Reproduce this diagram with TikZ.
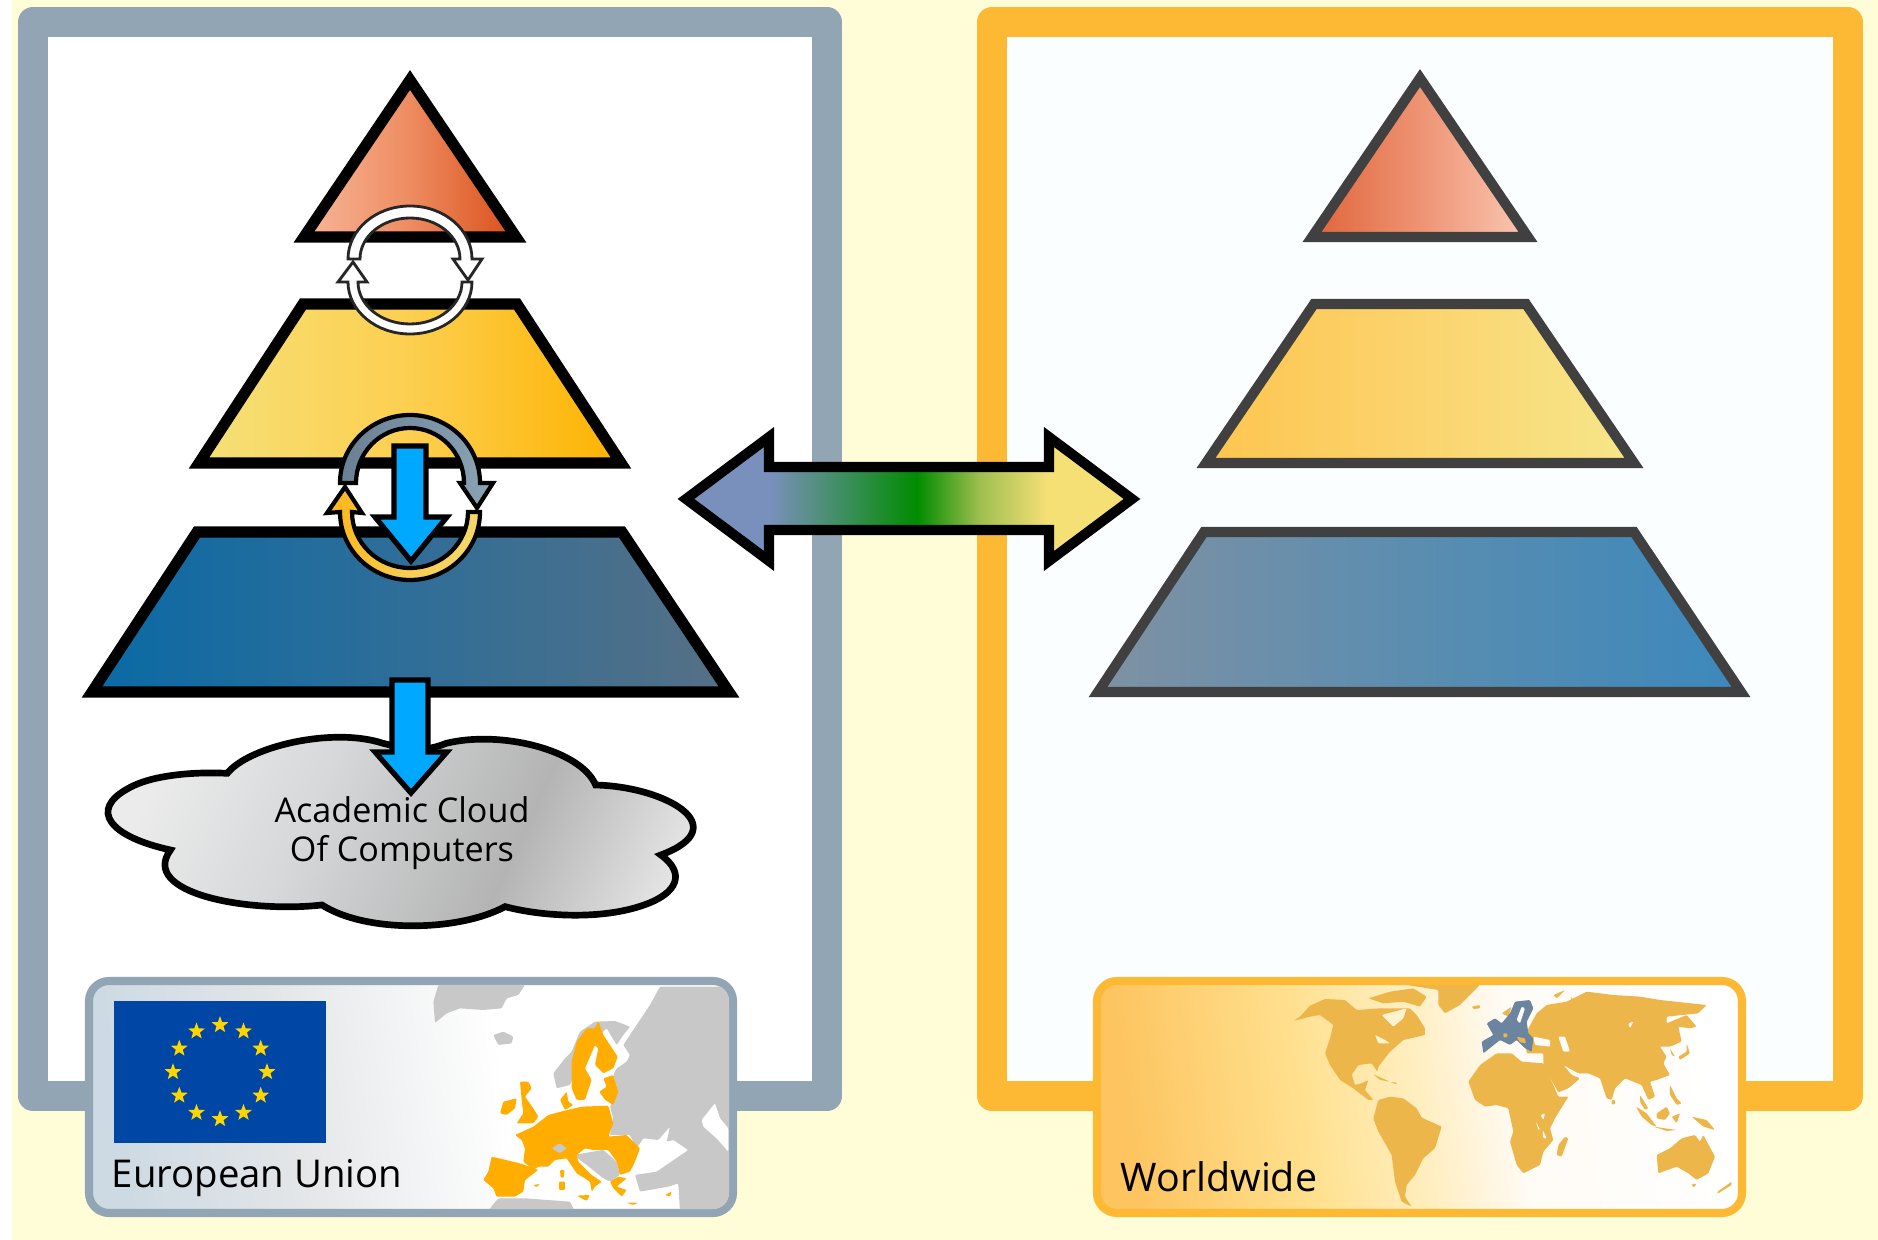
\documentclass[tikz,border=0pt]{standalone}
\usepackage{fontspec}
\setmainfont{Open Sans}
\usetikzlibrary{shapes.geometric}
\definecolor{bgY}{HTML}{FFFDD8}
\definecolor{frameB}{HTML}{92A5B5}
\definecolor{frameO}{HTML}{FDB933}
\definecolor{bluearrow}{HTML}{00A8FF}
\definecolor{euO}{HTML}{FFAD00}
\definecolor{mapO}{HTML}{ECB64A}
\definecolor{mapG}{HTML}{C8C8C8}
\definecolor{euB}{HTML}{6B85A0}
\definecolor{flagB}{HTML}{0047A5}
\definecolor{starY}{HTML}{FFD500}
\definecolor{holeW}{HTML}{FFF3CF}
\definecolor{holeE}{HTML}{FFFBF7}
\definecolor{rightIn}{HTML}{FBFEFF}
\newcommand{\hexdef}[1]{\definecolor{c#1}{HTML}{#1}}
\hexdef{F8B79A}\hexdef{EE8B60}\hexdef{D9501A}\hexdef{E0653B}\hexdef{EE9373}\hexdef{F9C8B4}
\hexdef{F5E078}\hexdef{FDCF4F}\hexdef{FDB300}\hexdef{FDC54F}\hexdef{FBD46E}\hexdef{F6E68A}
\hexdef{0A6AA5}\hexdef{2F6E98}\hexdef{567085}\hexdef{7F91A3}\hexdef{5A8DB0}\hexdef{3C88BC}
\hexdef{7A90BC}\hexdef{008C00}\hexdef{A0BF50}\hexdef{F5E075}
\hexdef{CDDAE3}\hexdef{E4E6E8}\hexdef{FFFFFF}\hexdef{FDC45F}\hexdef{FFE08E}\hexdef{FFEEC0}\hexdef{FFFBF5}
\hexdef{EBEBEB}\hexdef{D6D8D9}\hexdef{B4B4B4}\hexdef{E4E4E4}
\hexdef{8BA5B5}\hexdef{7F98AB}\hexdef{6B7F94}\hexdef{F5D96B}\hexdef{F8CC50}\hexdef{FDB515}
\pgfdeclarehorizontalshading{triL}{100bp}{color(0bp)=(cF8B79A);color(25bp)=(cF8B79A);color(50bp)=(cEE8B60);color(75bp)=(cD9501A);color(100bp)=(cD9501A)}
\pgfdeclarehorizontalshading{triR}{100bp}{color(0bp)=(cE0653B);color(25bp)=(cE0653B);color(50bp)=(cEE9373);color(75bp)=(cF9C8B4);color(100bp)=(cF9C8B4)}
\pgfdeclarehorizontalshading{midL}{100bp}{color(0bp)=(cF5E078);color(25bp)=(cF5E078);color(50bp)=(cFDCF4F);color(75bp)=(cFDB300);color(100bp)=(cFDB300)}
\pgfdeclarehorizontalshading{midR}{100bp}{color(0bp)=(cFDC54F);color(25bp)=(cFDC54F);color(50bp)=(cFBD46E);color(75bp)=(cF6E68A);color(100bp)=(cF6E68A)}
\pgfdeclarehorizontalshading{lowL}{100bp}{color(0bp)=(c0A6AA5);color(25bp)=(c0A6AA5);color(50bp)=(c2F6E98);color(75bp)=(c567085);color(100bp)=(c567085)}
\pgfdeclarehorizontalshading{lowR}{100bp}{color(0bp)=(c7F91A3);color(25bp)=(c7F91A3);color(50bp)=(c5A8DB0);color(75bp)=(c3C88BC);color(100bp)=(c3C88BC)}
\pgfdeclarehorizontalshading{bigarrow}{100bp}{color(0bp)=(c7A90BC);color(34.4bp)=(c7A90BC);color(50.9bp)=(c008C00);color(58bp)=(cA0BF50);color(65.5bp)=(cF5E075);color(100bp)=(cF5E075)}
\pgfdeclarehorizontalshading{euback}{100bp}{color(0bp)=(cCDDAE3);color(25bp)=(cCDDAE3);color(40bp)=(cE4E6E8);color(58bp)=(cFFFFFF);color(100bp)=(cFFFFFF)}
\pgfdeclarehorizontalshading{wwback}{100bp}{color(0bp)=(cFDC45F);color(25bp)=(cFDC45F);color(40bp)=(cFFE08E);color(50bp)=(cFFEEC0);color(58bp)=(cFFFBF5);color(75bp)=(cFFFFFF);color(100bp)=(cFFFFFF)}
\pgfdeclarehorizontalshading{cloudg}{100bp}{color(0bp)=(cEBEBEB);color(25bp)=(cEBEBEB);color(40bp)=(cD6D8D9);color(60bp)=(cB4B4B4);color(75bp)=(cE4E4E4);color(100bp)=(cE4E4E4)}
\pgfdeclarehorizontalshading{ringB}{100bp}{color(0bp)=(c6B7F94);color(25bp)=(c6B7F94);color(60bp)=(c7F98AB);color(75bp)=(c8BA5B5);color(100bp)=(c8BA5B5)}
\pgfdeclarehorizontalshading{ringY}{100bp}{color(0bp)=(cFDB515);color(25bp)=(cFDB515);color(50bp)=(cF8CC50);color(75bp)=(cF5D96B);color(100bp)=(cF5D96B)}
\tikzset{
  tierL/.style={draw=black,line width=3.15pt,line join=miter,shading=#1},
  tierR/.style={draw=black!75,line width=2.85pt,line join=miter,shading=#1},
  ring/.style={draw=black,line width=1.2pt,line join=miter},
  ringW/.style={draw=black!85,line width=0.8pt,fill=white,line join=miter},
  downarrow/.style={draw=black,line width=1.5pt,fill=bluearrow,line join=miter},
  txt/.style={font=\fontsize{10.9pt}{13pt}\selectfont,text=black,inner sep=0pt},
  estar/.style={star,star points=5,star point ratio=2.4,fill=starY,minimum size=5pt,inner sep=0pt},
  land/.style={fill=#1,rounded corners=0.3pt},
}
\begin{document}
\begin{tikzpicture}[x=0.01cm,y=-0.01cm]
\useasboundingbox (0,0) rectangle (1878,1240);
\fill[white] (0,0) rectangle (1878,1240);
\fill[bgY] (12,0) rectangle (1878,1240);
% frames
\draw[line width=8.5pt,line join=round,draw=frameB,fill=white] (33,22) rectangle (827,1096);
\draw[line width=8.5pt,line join=round,draw=frameO,fill=rightIn] (992,22) rectangle (1848,1096);
% right tiers
\path[tierR=triR] (1420,78) -- (1312,237) -- (1528,237) -- cycle;
\path[tierR=midR] (1314,304) -- (1526,304) -- (1634,463) -- (1206,463) -- cycle;
\path[tierR=lowR] (1204,532) -- (1634,532) -- (1741,692) -- (1098,692) -- cycle;
% big double arrow
\path[draw=black,line width=2.85pt,line join=miter,shading=bigarrow]
  (686,499) -- (769,437) -- (769,467) -- (1049,467) -- (1049,437) -- (1132,499) -- (1049,561) -- (1049,530) -- (769,530) -- (769,561) -- cycle;
% left tiers
\path[tierL=triL] (410,80) -- (304,237) -- (516,237) -- cycle;
\path[tierL=midL] (303,304) -- (517,304) -- (621,463) -- (199,463) -- cycle;
\path[tierL=lowL] (197,532) -- (622,532) -- (729,692) -- (92,692) -- cycle;
% cloud
\begin{scope}[shift={(80,660)},xscale=0.4209,yscale=0.3333]
\path[draw=black,line width=1.9pt,shading=cloudg,shading angle=-25]
 (350,340) .. controls (400,260) and (600,200) .. (720,250)
 .. controls (800,275) and (830,270) .. (870,250)
 .. controls (1000,210) and (1190,270) .. (1225,375)
 .. controls (1390,380) and (1560,500) .. (1380,585)
 .. controls (1440,640) and (1420,700) .. (1340,735)
 .. controls (1240,780) and (1100,770) .. (1010,740)
 .. controls (900,815) and (680,820) .. (575,735)
 .. controls (400,760) and (140,700) .. (215,570)
 .. controls (70,530) and (20,450) .. (115,385)
 .. controls (170,345) and (270,335) .. (350,340) -- cycle;
\end{scope}
\node[txt,font=\fontsize{9.7pt}{11.2pt}\selectfont,align=center] (cloudlabel) at (402,833) {Academic Cloud\\Of Computers};
% lower blue arrow
\path[downarrow] (392,680) -- (428,680) -- (428,752) -- (447,752) -- (411,793) -- (375,752) -- (392,752) -- cycle;
% middle rings
\path[ring,shading=ringB] (340,483) arc (180:360:70 and 68) -- (493,483) -- (477,508) -- (460,483) -- (464,483) arc (360:180:54 and 55) -- cycle;
\path[ring,shading=ringY] (480,512) arc (0:180:70 and 68) -- (327,513) -- (345,487) -- (362,513) -- (352,512) arc (180:0:58 and 56) -- cycle;
% big blue arrow
\path[downarrow] (394,446) -- (426,446) -- (426,517) -- (447,517) -- (411,561) -- (375,517) -- (394,517) -- cycle;
% top white rings
\path[ringW] (348,259) arc (180:360:62 and 53) -- (482,259) -- (468,280) -- (453,259) -- (460,259) arc (360:180:50 and 41) -- cycle;
\path[ringW] (472,282) arc (0:180:62 and 52) -- (338,282) -- (353,262) -- (367,282) -- (358,282) arc (180:0:52 and 42) -- cycle;
% EU box
\path[draw=frameB,line width=2.3pt,rounded corners=5.7pt,shading=euback,shading angle=8] (89,981) rectangle (733,1213);
\begin{scope}
\clip[rounded corners=4.5pt] (93,985) rectangle (729,1209);
\begin{scope}[shift={(470,985)},scale=0.3333]
\path[land=mapG] (-95,0) -- (165,0) -- (145,30) -- (110,40) -- (95,70) -- (40,75) -- (-30,70) -- (-70,85) -- (-105,114) -- (-110,50) -- cycle;
\path[land=mapG] (70,150) -- (100,140) -- (130,155) -- (125,175) -- (85,180) -- cycle;
\path[land=mapG] (250,265) -- (285,220) -- (305,200) -- (330,140) -- (375,110) -- (435,108) -- (480,125) -- (460,150) -- (440,180) -- (410,130) -- (340,200) -- (300,300) -- (260,310) -- cycle;
\path[land=mapG] (570,5) -- (800,5) -- (800,680) -- (630,680) -- (625,595) -- (595,605) -- (510,620) -- (495,570) -- (560,560) -- (655,495) -- (610,465) -- (590,470) -- (600,425) -- (565,465) -- (520,460) -- (500,490) -- (480,450) -- (420,450) -- (430,400) -- (420,365) -- (445,320) -- (430,270) -- (440,250) -- (470,230) -- (480,210) -- (460,180) -- (500,120) -- (540,60) -- cycle;
\path[land=white] (695,405) -- (735,355) -- (750,400) -- (775,430) -- (775,500) -- (740,460) -- (700,425) -- cycle;
\path[land=mapG] (310,510) -- (340,505) -- (400,495) -- (440,530) -- (450,570) -- (420,590) -- (400,580) -- (350,540) -- cycle;
\path[land=mapG] (60,670) -- (85,640) -- (130,640) -- (165,640) -- (300,650) -- (320,690) -- (60,690) -- cycle;
\path[land=euO] (385,108) -- (400,150) -- (420,180) -- (443,215) -- (430,250) -- (400,265) -- (375,240) -- (385,190) -- (375,180) -- (360,215) -- (345,250) -- (365,285) -- (345,345) -- (320,345) -- (305,310) -- (305,230) -- (320,170) -- (350,130) -- (375,130) -- cycle;
\path[land=euO] (400,280) -- (430,270) -- (445,320) -- (430,360) -- (405,345) -- (388,320) -- (410,305) -- cycle;
\path[land=euO] (150,290) -- (175,290) -- (185,310) -- (165,335) -- (190,370) -- (205,395) -- (190,415) -- (140,415) -- (160,385) -- (155,345) -- cycle;
\path[land=euO] (100,350) -- (140,340) -- (135,370) -- (110,390) -- (90,385) -- cycle;
\path[land=euO] (290,320) -- (295,350) -- (310,360) -- (285,375) -- (270,345) -- cycle;
\path[land=euO] (135,450) -- (190,425) -- (235,390) -- (280,378) -- (335,365) -- (415,362) -- (430,415) -- (415,455) -- (470,450) -- (510,490) -- (495,530) -- (480,560) -- (450,570) -- (440,530) -- (415,495) -- (370,495) -- (345,490) -- (320,510) -- (325,530) -- (365,570) -- (395,590) -- (375,605) -- (365,620) -- (360,590) -- (320,565) -- (290,520) -- (255,525) -- (235,545) -- (205,545) -- (190,555) -- (160,530) -- (165,490) -- (155,465) -- cycle;
\path[land=euO] (65,515) -- (150,535) -- (205,555) -- (165,585) -- (160,620) -- (135,635) -- (80,635) -- (70,610) -- (40,585) -- (55,560) -- cycle;
\path[land=mapG] (245,490) -- (270,475) -- (290,490) -- (270,505) -- cycle;
\path[land=euO] (420,590) -- (445,575) -- (470,580) -- (440,605) -- (470,615) -- (455,635) -- (430,610) -- cycle;
\path[land=euO] (320,632) -- (360,630) -- (350,648) -- cycle;
\path[land=euO] (267,590) -- (285,590) -- (285,615) -- (267,615) -- cycle;
\path[land=euO] (270,555) -- (283,555) -- (282,578) -- (272,578) -- cycle;
\path[land=euO] (470,653) -- (505,653) -- (490,660) -- cycle;
\path[land=euO] (585,630) -- (605,620) -- (600,635) -- cycle;
\path[land=euO] (190,600) -- (210,597) -- (200,607) -- cycle;
\end{scope}
\end{scope}
\node[fill=flagB,minimum width=60.3pt,minimum height=40.1pt,inner sep=0pt] (flag) at (220,1072) {};
\foreach \a [count=\i] in {90,60,...,-240} \node[estar] (s\i) at ({220+47*cos(\a)},{1072+47*sin(\a)}) {};
\node[txt,anchor=base west] (eulabel) at (111,1187) {European Union};
% World box
\path[draw=frameO,line width=2.3pt,rounded corners=5.7pt,shading=wwback,shading angle=8] (1097,981) rectangle (1742,1213);
\begin{scope}
\clip[rounded corners=4.5pt] (1101,985) rectangle (1738,1209);
\begin{scope}[shift={(1290,985)},scale=0.3333]
\path[land=mapO] (10,108) -- (30,95) -- (60,62) -- (105,42) -- (165,45) -- (200,75) -- (270,70) -- (360,70) -- (380,90) -- (405,130) -- (405,150) -- (340,165) -- (300,200) -- (265,245) -- (262,260) -- (245,235) -- (205,240) -- (185,270) -- (195,300) -- (215,295) -- (235,285) -- (225,315) -- (250,345) -- (235,345) -- (190,310) -- (150,285) -- (120,240) -- (105,205) -- (120,160) -- (130,120) -- (90,90) -- (60,95) -- cycle;
\path[land=holeW] (275,90) -- (350,70) -- (340,100) -- (310,125) -- (290,105) -- cycle;
\path[land=holeW] (255,150) -- (285,165) -- (300,175) -- (265,175) -- cycle;
\path[land=mapO] (235,40) -- (300,20) -- (370,10) -- (410,35) -- (390,65) -- (340,50) -- (280,55) -- cycle;
\path[land=mapO] (350,0) -- (570,0) -- (510,60) -- (465,85) -- (445,60) -- (445,15) -- cycle;
\path[land=mapO] (545,65) -- (570,60) -- (570,70) -- (550,72) -- cycle;
\path[land=mapO] (250,268) -- (300,290) -- (270,285) -- cycle;
\path[land=mapO] (300,292) -- (320,292) -- (320,298) -- cycle;
\path[land=mapO] (265,345) -- (300,335) -- (340,340) -- (380,370) -- (395,398) -- (455,425) -- (435,490) -- (400,520) -- (375,570) -- (350,600) -- (345,635) -- (365,665) -- (335,650) -- (315,590) -- (305,510) -- (265,440) -- (250,400) -- cycle;
\end{scope}
\begin{scope}[shift={(1500,985)},scale=0.3333]
\path[land=mapO] (-95,290) -- (-60,240) -- (-10,205) -- (35,205) -- (65,230) -- (130,235) -- (160,300) -- (175,335) -- (205,335) -- (165,400) -- (150,430) -- (160,465) -- (130,500) -- (120,540) -- (70,565) -- (50,540) -- (30,470) -- (40,440) -- (25,370) -- (-10,360) -- (-45,365) -- (-75,345) -- cycle;
\path[land=mapO] (195,455) -- (205,460) -- (185,515) -- (170,510) -- (175,480) -- cycle;
\path[land=holeE] (122,390) -- (135,385) -- (130,405) -- cycle;
\path[land=holeE] (128,435) -- (140,460) -- (130,460) -- cycle;
\path[land=holeE] (108,410) -- (120,435) -- (115,435) -- cycle;
\path[land=mapO] (80,140) -- (110,85) -- (140,60) -- (200,50) -- (260,20) -- (340,30) -- (420,35) -- (480,45) -- (620,60) -- (595,85) -- (500,95) -- (500,115) -- (560,90) -- (590,125) -- (570,130) -- (535,125) -- (545,170) -- (510,185) -- (480,185) -- (500,215) -- (490,235) -- (510,270) -- (470,285) -- (450,290) -- (465,335) -- (445,345) -- (425,300) -- (375,280) -- (345,310) -- (335,345) -- (320,340) -- (300,280) -- (265,265) -- (235,265) -- (190,240) -- (215,270) -- (240,280) -- (205,310) -- (175,322) -- (145,270) -- (130,245) -- (130,205) -- (80,205) -- (75,160) -- cycle;
\path[land=holeE] (100,155) -- (150,165) -- (150,185) -- (105,180) -- cycle;
\path[land=holeE] (175,155) -- (195,155) -- (210,200) -- (190,200) -- cycle;
\path[land=holeE] (385,115) -- (400,110) -- (390,130) -- cycle;
\path[land=mapO] (560,175) -- (570,205) -- (540,225) -- (535,215) -- (560,200) -- cycle;
\path[land=mapO] (510,190) -- (525,215) -- (515,210) -- cycle;
\path[land=mapO] (408,365) -- (440,385) -- (470,425) -- (455,420) -- (425,395) -- cycle;
\path[land=mapO] (460,425) -- (530,435) -- (500,438) -- cycle;
\path[land=mapO] (470,385) -- (500,365) -- (510,385) -- (495,405) -- (470,400) -- cycle;
\path[land=mapO] (515,395) -- (540,385) -- (530,415) -- cycle;
\path[land=mapO] (510,300) -- (530,340) -- (545,355) -- (530,360) -- (510,330) -- cycle;
\path[land=mapO] (575,395) -- (620,405) -- (645,435) -- (610,425) -- cycle;
\path[land=mapO] (420,330) -- (445,370) -- (435,375) -- (420,350) -- cycle;
\path[land=mapO] (335,345) -- (345,345) -- (345,358) -- (335,358) -- cycle;
\path[land=mapO] (470,510) -- (510,490) -- (545,460) -- (585,450) -- (600,470) -- (610,450) -- (645,515) -- (625,565) -- (590,585) -- (565,565) -- (530,545) -- (475,565) -- cycle;
\path[land=mapO] (575,597) -- (590,597) -- (580,608) -- cycle;
\path[land=mapO] (650,622) -- (695,590) -- (695,600) -- (655,625) -- cycle;
\path[land=mapO] (160,30) -- (195,15) -- (170,40) -- cycle;
\path[land=mapO] (210,35) -- (240,60) -- (220,50) -- cycle;
\path[land=mapO] (5,85) -- (35,65) -- (25,95) -- cycle;
\path[land=euB] (45,50) -- (90,45) -- (100,70) -- (80,110) -- (85,145) -- (100,160) -- (95,200) -- (75,190) -- (50,165) -- (30,180) -- (0,165) -- (-50,205) -- (-55,170) -- (-20,150) -- (-40,115) -- (-15,100) -- (5,115) -- (30,85) -- cycle;
\path[land=holeE] (65,65) -- (75,70) -- (60,115) -- (50,105) -- cycle;
\path[land=mapO] (10,145) -- (22,145) -- (22,157) -- (10,157) -- cycle;
\path[land=mapO] (50,155) -- (75,160) -- (78,175) -- (60,172) -- cycle;
\end{scope}
\end{scope}
\node[txt,font=\fontsize{11.2pt}{13pt}\selectfont,anchor=base west] (wwlabel) at (1120,1191) {Worldwide};
\end{tikzpicture}
\end{document}
